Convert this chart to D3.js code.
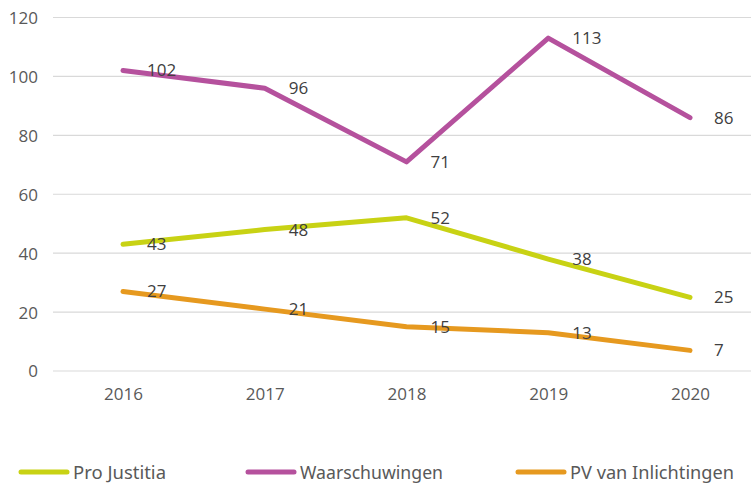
<!DOCTYPE html>
<html><head><meta charset="utf-8">
<script src="https://cdn.jsdelivr.net/npm/d3@7"></script>
<style>html,body{margin:0;padding:0;background:#fff;}svg{display:block;}</style>
</head><body>
<svg id="c" width="751" height="487"></svg>
<script>
const years = ["2016","2017","2018","2019","2020"];
const proJustitia = [43,48,52,38,25];
const waarschuwingen = [102,96,71,113,86];
const pvInlichtingen = [27,21,15,13,7];
const yTicks = [0,20,40,60,80,100,120];
const seriesNames = ["Pro Justitia","Waarschuwingen","PV van Inlichtingen"];
const seriesColors = ["#c8d214","#b5519d","#e6991f"];

const series = [
  {name: seriesNames[0], values: proJustitia, color: seriesColors[0]},
  {name: seriesNames[1], values: waarschuwingen, color: seriesColors[1]},
  {name: seriesNames[2], values: pvInlichtingen, color: seriesColors[2]}
];

const svg = d3.select("#c");
const font = "'Open Sans', 'Noto Sans', sans-serif";
const x = d3.scalePoint().domain(years).range([123, 690]);
const y = d3.scaleLinear().domain([0,120]).range([371, 17.5]);

// grid
svg.append("g").selectAll("line").data(yTicks).join("line")
  .attr("x1", 53).attr("x2", 751)
  .attr("y1", d => y(d)).attr("y2", d => y(d))
  .attr("stroke", "#d9d9d9").attr("stroke-width", 1.2);

// y axis labels
const yAxis = d3.axisLeft(y).tickValues(yTicks).tickSize(0).tickPadding(0);
const gy = svg.append("g").attr("transform", "translate(38,0)").call(yAxis);
gy.select(".domain").remove();
gy.selectAll("text").attr("font-family", font).attr("font-size", 17).attr("fill", "#595959").attr("dy", "0.35em");

// x axis labels
const xAxis = d3.axisBottom(x).tickSize(0).tickPadding(0);
const gx = svg.append("g").attr("transform", "translate(0,388)").call(xAxis);
gx.select(".domain").remove();
gx.selectAll("text").attr("font-family", font).attr("font-size", 17).attr("fill", "#595959").attr("dy", "0.71em");

const line = d3.line().x((d,i) => x(years[i])).y(d => y(d));

series.forEach(s => {
  svg.append("path").datum(s.values)
    .attr("d", line).attr("fill", "none")
    .attr("stroke", s.color).attr("stroke-width", 5)
    .attr("stroke-linecap", "round").attr("stroke-linejoin", "round");
});

series.forEach(s => {
  svg.append("g").selectAll("text").data(s.values).join("text")
    .attr("x", (d,i) => x(years[i]) + 24)
    .attr("y", d => y(d))
    .attr("dy", "0.35em")
    .attr("font-family", font).attr("font-size", 17).attr("fill", "#404040")
    .text(d => d);
});

// legend
const legX = [20, 247, 517];
const legW = [93, 143, 164];
const leg = svg.append("g");
series.forEach((s, i) => {
  const g = leg.append("g").attr("transform", `translate(${legX[i]},472)`);
  g.append("line").attr("x1", 1).attr("x2", 47).attr("y1", 0).attr("y2", 0)
    .attr("stroke", s.color).attr("stroke-width", 5).attr("stroke-linecap", "round");
  g.append("text").attr("x", 53).attr("y", 1).attr("dy", "0.35em")
    .attr("font-family", "'Noto Sans', sans-serif").attr("font-size", 17.5)
    .attr("textLength", legW[i]).attr("lengthAdjust", "spacingAndGlyphs")
    .attr("fill", "#595959").text(s.name);
});
</script>
</body></html>
